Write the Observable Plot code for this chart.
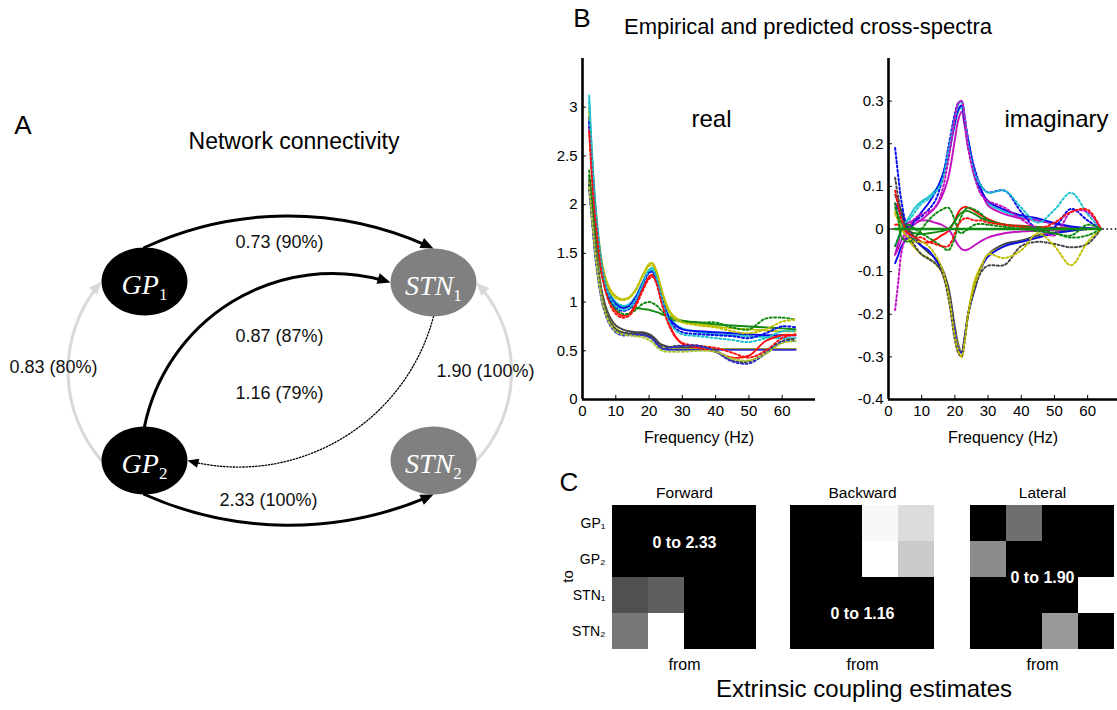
<!DOCTYPE html>
<html><head><meta charset="utf-8">
<script src="https://cdn.jsdelivr.net/npm/d3@7"></script>
<script src="https://cdn.jsdelivr.net/npm/@observablehq/plot@0.6"></script>
<style>
body{margin:0;background:#fff;}
#fig{position:relative;width:1117px;height:710px;overflow:hidden;background:#fff;font-family:"Liberation Sans",Arial,sans-serif;color:#000;}
.abs{position:absolute;}
.lbl{position:absolute;white-space:nowrap;line-height:1;}
</style></head><body><div id="fig"></div>
<script>
// ================= DATA =================
// ---- Panel A: network diagram
const nodeIds   = ["GP1", "STN1", "GP2", "STN2"];
const nodeNames = ["GP", "STN", "GP", "STN"];
const nodeSubs  = ["1", "1", "2", "2"];
const nodeX     = [144, 433, 144, 433];
const nodeY     = [281, 282, 460, 460];
const nodeFill  = ["#000000", "#808080", "#000000", "#808080"];

const edgeFrom     = ["GP1", "GP2", "STN1", "GP2", "GP2", "STN2"];
const edgeFromSide = ["top", "top", "bottom", "bottom", "left", "right"];
const edgeTo       = ["STN1", "STN1", "GP2", "STN2", "GP1", "STN1"];
const edgeToSide   = ["top", "left", "right", "bottom", "left", "right"];
const edgeBend     = [25, 48, 45, -24, 41, -43];
const edgeKind     = ["strong", "strong", "dotted", "strong", "lateral", "lateral"];
const edgeLabels   = ["0.73 (90%)", "0.87 (87%)", "1.16 (79%)", "2.33 (100%)", "0.83 (80%)", "1.90 (100%)"];
const edgeLabelX   = [279, 279, 279, 268, 53, 485];
const edgeLabelY   = [242, 336, 393, 500, 367, 371];

// ---- Panel B: cross-spectra (frequency in Hz)
const freqHz = [2, 3, 4, 6, 8, 10, 12, 14, 16, 18, 20, 21, 22, 23, 24, 26, 28, 30, 35, 40, 45, 50, 55, 60, 64];
const xTicks = [0, 10, 20, 30, 40, 50, 60];
const realYTicks = [0, 0.5, 1, 1.5, 2, 2.5, 3];
const imagYTicks = [-0.4, -0.3, -0.2, -0.1, 0, 0.1, 0.2, 0.3];

// real part, solid (predicted)
const realYellow = [3.00,2.40,1.95,1.38,1.15,1.06,1.03,1.05,1.13,1.27,1.39,1.40,1.34,1.23,1.10,0.92,0.84,0.80,0.77,0.75,0.73,0.72,0.71,0.70,0.70];
const realCyan   = [3.12,2.45,1.95,1.35,1.10,1.00,0.96,0.98,1.06,1.20,1.33,1.35,1.29,1.18,1.05,0.86,0.77,0.73,0.69,0.67,0.66,0.65,0.64,0.63,0.63];
const realBlue   = [2.90,2.35,1.90,1.33,1.08,0.98,0.94,0.96,1.05,1.19,1.31,1.32,1.26,1.15,1.02,0.84,0.76,0.72,0.70,0.69,0.68,0.67,0.66,0.66,0.66];
const realRed    = [2.80,2.25,1.85,1.28,1.02,0.91,0.86,0.88,0.98,1.13,1.26,1.28,1.23,1.12,0.98,0.78,0.64,0.57,0.53,0.49,0.43,0.45,0.60,0.66,0.66];
const realGreen  = [2.30,2.00,1.70,1.25,1.05,0.99,0.96,0.95,0.94,0.93,0.92,0.91,0.90,0.89,0.87,0.85,0.83,0.81,0.79,0.77,0.76,0.75,0.74,0.73,0.72];
const realGray   = [2.25,1.90,1.55,1.08,0.86,0.76,0.72,0.70,0.69,0.69,0.67,0.65,0.62,0.58,0.56,0.54,0.53,0.53,0.53,0.52,0.52,0.52,0.52,0.52,0.52];
const realNavy   = [2.20,1.80,1.45,1.00,0.80,0.71,0.68,0.67,0.67,0.67,0.65,0.63,0.59,0.55,0.52,0.51,0.51,0.51,0.51,0.51,0.51,0.51,0.51,0.51,0.51];
const realOlive  = [2.22,1.85,1.50,1.03,0.82,0.73,0.69,0.67,0.66,0.66,0.64,0.62,0.59,0.55,0.53,0.52,0.52,0.52,0.52,0.52,0.52,0.52,0.52,0.52,0.52];
// real part, dotted (empirical)
const realGreenDot  = [2.35,2.00,1.70,1.25,1.03,0.93,0.88,0.88,0.92,0.98,1.00,0.99,0.97,0.94,0.90,0.84,0.81,0.80,0.79,0.79,0.74,0.72,0.83,0.84,0.82];
const realYellowDot = [2.95,2.35,1.90,1.35,1.12,1.04,1.02,1.04,1.12,1.26,1.37,1.38,1.32,1.21,1.08,0.90,0.82,0.79,0.76,0.74,0.70,0.68,0.72,0.80,0.82];
const realBlueDot   = [2.85,2.30,1.85,1.30,1.05,0.95,0.91,0.93,1.02,1.17,1.30,1.31,1.25,1.13,1.00,0.82,0.73,0.69,0.67,0.66,0.65,0.63,0.68,0.75,0.74];
const realCyanDot   = [3.05,2.40,1.92,1.32,1.07,0.96,0.92,0.94,1.03,1.18,1.32,1.33,1.27,1.14,1.01,0.80,0.71,0.67,0.65,0.63,0.61,0.59,0.63,0.70,0.70];
const realRedDot    = [2.75,2.20,1.80,1.25,1.00,0.88,0.84,0.86,0.96,1.11,1.24,1.26,1.21,1.09,0.96,0.76,0.64,0.58,0.55,0.53,0.48,0.43,0.50,0.63,0.67];
const realGrayDot   = [2.20,1.82,1.48,1.02,0.82,0.72,0.69,0.68,0.68,0.68,0.66,0.64,0.61,0.57,0.55,0.54,0.55,0.55,0.55,0.50,0.40,0.39,0.48,0.60,0.62];
const realNavyDot   = [2.15,1.78,1.42,0.98,0.78,0.69,0.66,0.66,0.66,0.66,0.64,0.62,0.58,0.54,0.52,0.53,0.54,0.55,0.55,0.49,0.39,0.37,0.47,0.59,0.60];
const realLimeDot   = [2.18,1.80,1.45,1.00,0.79,0.70,0.67,0.66,0.65,0.64,0.61,0.59,0.55,0.52,0.50,0.49,0.49,0.49,0.50,0.49,0.42,0.40,0.47,0.58,0.60];

// imaginary part, solid (predicted)
const imagZero    = [0,0,0,0,0,0,0,0,0,0,0,0,0,0,0,0,0,0,0,0,0,0,0,0,0];
const imagBlue    = [0.06,0.045,0.03,0.005,0.02,0.04,0.06,0.085,0.12,0.175,0.25,0.28,0.29,0.25,0.21,0.13,0.09,0.065,0.045,0.032,0.025,0.014,0.006,0.002,0];
const imagCyan    = [-0.04,-0.02,0.0,0.025,0.05,0.065,0.075,0.09,0.115,0.17,0.245,0.275,0.285,0.245,0.2,0.12,0.085,0.06,0.04,0.028,0.02,0.012,0.005,0.002,0];
const imagMagenta = [-0.06,-0.045,-0.025,0.0,0.012,0.022,0.035,0.05,0.075,0.12,0.21,0.255,0.275,0.24,0.19,0.135,0.09,0.055,0.035,0.025,0.02,0.012,0.005,0.002,0];
const imagGray    = [0.08,0.06,0.04,0.0,-0.02,-0.04,-0.055,-0.068,-0.09,-0.135,-0.23,-0.27,-0.29,-0.255,-0.2,-0.13,-0.09,-0.06,-0.035,-0.027,-0.015,-0.008,-0.003,0,0];
const imagYellow  = [0.035,0.02,0.0,-0.025,-0.045,-0.06,-0.068,-0.08,-0.1,-0.15,-0.24,-0.275,-0.29,-0.25,-0.2,-0.12,-0.085,-0.06,-0.04,-0.03,-0.02,-0.01,-0.004,0,0];
const imagBlueNeg = [-0.08,-0.06,-0.04,-0.02,-0.028,-0.04,-0.05,-0.07,-0.095,-0.15,-0.24,-0.28,-0.29,-0.25,-0.2,-0.14,-0.09,-0.065,-0.04,-0.03,-0.02,-0.01,-0.004,0,0];
const imagRed     = [0.01,0.01,0.0,-0.01,-0.02,-0.03,-0.032,-0.025,-0.015,-0.005,0.02,0.038,0.048,0.052,0.05,0.042,0.032,0.023,0.01,0.008,0.005,0.003,0.001,0,0];
const imagGreen   = [0.05,0.03,0.01,-0.005,-0.01,-0.012,-0.01,-0.008,-0.005,0.0,0.018,0.03,0.038,0.042,0.042,0.035,0.025,0.02,0.01,0.006,0.004,0.002,0.001,0,0];
const imagPurple  = [-0.06,-0.03,0.0,0.015,0.02,0.02,0.02,0.015,0.01,0.0,-0.025,-0.038,-0.047,-0.05,-0.048,-0.038,-0.028,-0.02,-0.01,-0.006,-0.004,-0.002,-0.001,0,0];
// imaginary part, dotted (empirical)
const imagBlueDot    = [0.19,0.12,0.06,0.0,0.02,0.03,0.045,0.065,0.11,0.19,0.27,0.295,0.30,0.26,0.21,0.14,0.10,0.086,0.09,0.04,0.0,0.005,0.047,0.02,0];
const imagCyanDot    = [0.0,0.0,0.01,0.02,0.04,0.06,0.07,0.085,0.11,0.18,0.26,0.29,0.30,0.26,0.2,0.13,0.1,0.085,0.09,0.05,0.015,0.045,0.085,0.035,0];
const imagMagentaDot = [-0.19,-0.12,-0.05,0.0,0.025,0.035,0.04,0.05,0.085,0.16,0.26,0.295,0.30,0.26,0.19,0.12,0.08,0.066,0.05,0.023,0.0,-0.015,0.04,0.04,0];
const imagGrayDot    = [0.12,0.07,0.03,-0.01,-0.04,-0.06,-0.07,-0.08,-0.1,-0.16,-0.26,-0.29,-0.30,-0.26,-0.2,-0.14,-0.1,-0.086,-0.084,-0.04,-0.03,-0.035,-0.043,-0.035,0];
const imagYellowDot  = [0.04,0.02,0.0,-0.02,-0.03,-0.03,-0.04,-0.06,-0.09,-0.15,-0.25,-0.285,-0.30,-0.26,-0.2,-0.13,-0.09,-0.06,-0.068,-0.05,-0.01,-0.04,-0.085,-0.03,0];
const imagGreenDot   = [0.06,0.02,-0.02,-0.03,-0.02,0.0,0.02,0.035,0.045,0.05,0.02,-0.005,-0.01,-0.005,0.0,0.01,0.012,0.01,0.005,0.0,-0.005,-0.01,-0.015,0.01,0];
const imagGreenDot2  = [-0.04,-0.02,0.0,0.01,0.0,-0.01,-0.02,-0.03,-0.04,-0.05,-0.02,0.01,0.03,0.045,0.05,0.045,0.035,0.02,0.01,0.005,0.0,-0.01,-0.02,-0.015,0];
const imagRedDot     = [0.09,0.05,0.02,-0.01,-0.02,-0.02,-0.03,-0.035,-0.04,-0.04,-0.01,0.01,0.02,0.025,0.025,0.02,0.02,0.015,0.01,0.005,0.0,0.015,0.04,0.045,0];

// ---- Panel C: extrinsic coupling matrices (rows = to, columns = from)
const regions     = ["GP1", "GP2", "STN1", "STN2"];
const regionTicks = ["GP\u2081", "GP\u2082", "STN\u2081", "STN\u2082"];
const forwardCoupling  = [[0,0,0,0],[0,0,0,0],[0.73,0.87,0,0],[1.10,2.33,0,0]];
const backwardCoupling = [[0,0,1.13,1.00],[0,0,1.16,0.92],[0,0,0,0],[0,0,0,0]];
const lateralCoupling  = [[0,0.83,0,0],[1.04,0,0,0],[0,0,0,1.90],[0,0,1.14,0]];
const couplingTitles = ["Forward", "Backward", "Lateral"];
const couplingMax    = [2.33, 1.16, 1.90];

// ================= DRAWING =================
const FONT = '"Liberation Sans", Arial, Helvetica, sans-serif';
const SERIF = '"Liberation Serif", "Times New Roman", serif';
const fig = document.getElementById("fig");
function place(el, left, top) {
  const d = document.createElement("div");
  d.className = "abs"; d.style.left = left + "px"; d.style.top = top + "px";
  d.appendChild(el); fig.appendChild(d);
}
function label(text, cx, top, size, extra) {
  const d = document.createElement("div");
  d.className = "lbl"; d.textContent = text;
  d.style.left = cx + "px"; d.style.top = top + "px"; d.style.fontSize = size + "px";
  d.style.transform = "translateX(-50%)" + (extra && extra.rotate ? " rotate(" + extra.rotate + "deg)" : "");
  fig.appendChild(d);
}

// ---------- Panel A ----------
const RX = 43, RY = 34;
const ellipseSymbol = {
  draw(context, size) {
    const ry = Math.sqrt(size / Math.PI), rx = ry * RX / RY, k = 0.5523;
    context.moveTo(rx, 0);
    context.bezierCurveTo(rx, ry * k, rx * k, ry, 0, ry);
    context.bezierCurveTo(-rx * k, ry, -rx, ry * k, -rx, 0);
    context.bezierCurveTo(-rx, -ry * k, -rx * k, -ry, 0, -ry);
    context.bezierCurveTo(rx * k, -ry, rx, -ry * k, rx, 0);
    context.closePath();
  }
};
const headSymbol = {
  draw(context, size) {
    const r = Math.sqrt(size / Math.PI);
    context.moveTo(0, 0);
    context.lineTo(-r * 0.42, r);
    context.lineTo(r * 0.42, r);
    context.closePath();
  }
};
const nodes = nodeIds.map((id, i) => ({id, name: nodeNames[i], sub: nodeSubs[i], x: nodeX[i], y: nodeY[i], fill: nodeFill[i]}));
const nodeById = new Map(nodes.map(n => [n.id, n]));
function attach(n, side) {
  return side === "top" ? [n.x, n.y - RY] : side === "bottom" ? [n.x, n.y + RY] : side === "left" ? [n.x - RX, n.y] : [n.x + RX, n.y];
}
const edgeStyles = {
  strong:  {stroke: "#000000", width: 3,   dash: null,      head: 13},
  dotted:  {stroke: "#000000", width: 1.3, dash: "1.4,1.8", head: 11},
  lateral: {stroke: "#d9d9d9", width: 3,   dash: null,      head: 13}
};
const edges = edgeFrom.map((f, i) => {
  const [x1, y1] = attach(nodeById.get(f), edgeFromSide[i]);
  const [x2, y2] = attach(nodeById.get(edgeTo[i]), edgeToSide[i]);
  const endAngle = Math.atan2(y2 - y1, x2 - x1) * 180 / Math.PI + edgeBend[i];
  return {x1, y1, x2, y2, bend: edgeBend[i], endAngle, ...edgeStyles[edgeKind[i]], label: edgeLabels[i], lx: edgeLabelX[i], ly: edgeLabelY[i]};
});
const measureCtx = document.createElement("canvas").getContext("2d");
function textWidth(str, font) { measureCtx.font = font; return measureCtx.measureText(str).width; }
const nodeMainFont = "italic 28px " + SERIF, nodeSubFont = "17px " + SERIF;
const labelShift = n => (textWidth(n.name, nodeMainFont) - textWidth(n.sub, nodeSubFont)) / 2;

const plotA = Plot.plot({
  width: 540, height: 560, margin: 0,
  x: {type: "identity", axis: null},
  y: {type: "identity", axis: null},
  color: {type: "identity"},
  style: {fontFamily: FONT, background: "transparent", overflow: "visible"},
  marks: [
    ...edges.map(e => Plot.arrow([e], {
      x1: "x1", y1: "y1", x2: "x2", y2: "y2", bend: e.bend, stroke: e.stroke,
      strokeWidth: e.width, headLength: 0, insetEnd: e.head * 0.6,
      ...(e.dash ? {strokeDasharray: e.dash} : {})
    })),
    Plot.dot(nodes, {x: "x", y: "y", r: RY, symbol: ellipseSymbol, fill: "fill", stroke: "none"}),
    ...edges.map(e => Plot.dot([e], {x: "x2", y: "y2", r: e.head, symbol: headSymbol, fill: e.stroke, stroke: "none", rotate: e.endAngle + 90})),
    Plot.text(nodes, {x: n => n.x + labelShift(n), y: "y", dy: 3.5, text: "name", textAnchor: "end", lineAnchor: "middle", fill: "white", fontSize: 28, fontStyle: "italic", fontFamily: SERIF}),
    Plot.text(nodes, {x: n => n.x + labelShift(n), y: "y", dy: 13, text: "sub", textAnchor: "start", lineAnchor: "middle", fill: "white", fontSize: 17, fontFamily: SERIF}),
    Plot.text(edges, {x: "lx", y: "ly", text: "label", lineAnchor: "middle", fontSize: 18, fill: "#111"})
  ]
});
place(plotA, 0, 0);
label("A", 23, 112, 26);
label("Network connectivity", 294, 130, 23);

// ---------- Panel B ----------
const cBlue = "#0a0af0", cCyan = "#1cc2cc", cMagenta = "#c010c0", cRed = "#ff1010", cGreen = "#108a10",
      cYellow = "#c0c000", cGray = "#454545", cNavy = "#3030c8", cLime = "#a8c830";
const realSeries = [
  {values: realGreen, color: cGreen}, {values: realGray, color: cGray}, {values: realOlive, color: cYellow},
  {values: realNavy, color: cNavy}, {values: realYellow, color: cYellow}, {values: realCyan, color: cCyan},
  {values: realBlue, color: cBlue}, {values: realRed, color: cRed},
  {values: realGreenDot, color: cGreen, dotted: true}, {values: realYellowDot, color: cYellow, dotted: true},
  {values: realBlueDot, color: cBlue, dotted: true}, {values: realCyanDot, color: cCyan, dotted: true},
  {values: realRedDot, color: cRed, dotted: true}, {values: realGrayDot, color: cGray, dotted: true},
  {values: realNavyDot, color: cNavy, dotted: true}, {values: realLimeDot, color: cLime, dotted: true}
];
const imagSeries = [
  {values: imagRed, color: cRed}, {values: imagGreen, color: cGreen}, {values: imagPurple, color: cMagenta},
  {values: imagCyan, color: cCyan}, {values: imagMagenta, color: cMagenta}, {values: imagBlue, color: cBlue},
  {values: imagGray, color: cGray}, {values: imagYellow, color: cYellow}, {values: imagBlueNeg, color: cBlue},
  {values: imagBlueDot, color: cBlue, dotted: true}, {values: imagCyanDot, color: cCyan, dotted: true},
  {values: imagMagentaDot, color: cMagenta, dotted: true}, {values: imagGrayDot, color: cGray, dotted: true},
  {values: imagYellowDot, color: cYellow, dotted: true}, {values: imagGreenDot, color: cGreen, dotted: true},
  {values: imagGreenDot2, color: cGreen, dotted: true}, {values: imagRedDot, color: cRed, dotted: true},
  {values: imagZero, color: cGreen, thick: true}
];
function spectraPlot(series, o) {
  const rows = [];
  series.forEach((s, k) => s.values.forEach((v, i) => rows.push({f: freqHz[i], v, k, color: s.color, dotted: !!s.dotted, thick: !!s.thick})));
  const yMin = o.yDomain[0];
  return Plot.plot({
    width: o.width, height: 410, marginLeft: o.marginLeft, marginRight: o.marginRight, marginTop: 8, marginBottom: 61,
    x: {domain: [0, o.xMax], ticks: xTicks, tickSize: 0, tickPadding: 6, label: null},
    y: {domain: o.yDomain, ticks: o.yTicks, tickSize: 0, tickPadding: 5, tickFormat: d => String(d), label: null},
    color: {type: "identity"},
    style: {fontFamily: FONT, fontSize: "15px", background: "transparent", overflow: "visible"},
    marks: [
      ...(o.zeroLine ? [Plot.ruleY([0], {stroke: "black", strokeWidth: 1.6, strokeDasharray: "1.6,2.6"})] : []),
      Plot.line(rows.filter(d => !d.dotted && !d.thick), {x: "f", y: "v", z: "k", stroke: "color", strokeWidth: 1.9, curve: "catmull-rom"}),
      Plot.line(rows.filter(d => d.dotted), {x: "f", y: "v", z: "k", stroke: "color", strokeWidth: 2, strokeDasharray: "2,2.4", curve: "catmull-rom"}),
      Plot.line(rows.filter(d => d.thick), {x: "f", y: "v", z: "k", stroke: "color", strokeWidth: 2.6, curve: "catmull-rom"}),
      Plot.ruleY(o.yTicks, {x1: 0, x2: o.xMax * 0.017, stroke: "black", strokeWidth: 1}),
      Plot.ruleX(xTicks, {y1: yMin, y2: yMin + (o.yDomain[1] - o.yDomain[0]) * 0.012, stroke: "black", strokeWidth: 1}),
      Plot.ruleX([0], {stroke: "black", strokeWidth: 2.6}),
      Plot.ruleY([yMin], {stroke: "black", strokeWidth: 2.6}),
      Plot.text([o.title], {frameAnchor: "top", lineAnchor: "middle", dx: o.titleDx, dy: 61, fontSize: 24}),
      Plot.text(["Frequency (Hz)"], {frameAnchor: "bottom", lineAnchor: "middle", dy: 38, fontSize: 16})
    ]
  });
}
place(spectraPlot(realSeries, {width: 290, marginLeft: 42, marginRight: 15, xMax: 70, yDomain: [0, 3.5], yTicks: realYTicks, title: "real", titleDx: 12.5}), 540, 50);
place(spectraPlot(imagSeries, {width: 277, marginLeft: 48, marginRight: 0, xMax: 69, yDomain: [-0.4, 0.4], yTicks: imagYTicks, title: "imaginary", titleDx: 53.5, zeroLine: true}), 840, 50);
label("B", 582, 5, 26);
label("Empirical and predicted cross-spectra", 808, 16, 22);

// ---------- Panel C ----------
function couplingPlot(matrix, max, title, o) {
  const cells = [];
  matrix.forEach((row, i) => row.forEach((v, j) => cells.push({to: regions[i], from: regions[j], v})));
  return Plot.plot({
    width: o.width, height: 200, marginLeft: o.marginLeft, marginRight: o.width - o.marginLeft - 144, marginTop: 25, marginBottom: 31,
    x: {domain: regions, padding: 0, axis: null},
    y: {domain: regions, padding: 0, axis: o.rows ? "left" : null, tickSize: 0, tickPadding: 7, tickFormat: d => regionTicks[regions.indexOf(d)], label: null},
    color: {type: "linear", domain: [0, max], range: ["#000000", "#ffffff"], interpolate: "rgb"},
    style: {fontFamily: FONT, fontSize: "14px", background: "transparent", overflow: "visible"},
    marks: [
      Plot.cell(cells, {x: "from", y: "to", fill: "v", inset: 0}),
      Plot.text([title], {frameAnchor: "top", lineAnchor: "middle", dy: -12, fontSize: 15.5}),
      Plot.text(["from"], {frameAnchor: "bottom", lineAnchor: "middle", dy: 15, fontSize: 16}),
      Plot.text(["0 to " + max.toFixed(2)], {frameAnchor: o.anchor, lineAnchor: "middle", dy: o.dy, fill: "white", fontWeight: "bold", fontSize: 16})
    ]
  });
}
place(couplingPlot(forwardCoupling, couplingMax[0], couplingTitles[0], {width: 200, marginLeft: 52, rows: true, anchor: "top", dy: 37}), 560, 480);
place(couplingPlot(backwardCoupling, couplingMax[1], couplingTitles[1], {width: 200, marginLeft: 30, anchor: "top", dy: 108}), 760, 480);
place(couplingPlot(lateralCoupling, couplingMax[2], couplingTitles[2], {width: 177, marginLeft: 30, anchor: "middle", dy: 0}), 940, 480);
label("C", 569, 469, 26);
label("to", 567, 569, 15, {rotate: -90});
label("Extrinsic coupling estimates", 864, 677, 24);
</script></body></html>
